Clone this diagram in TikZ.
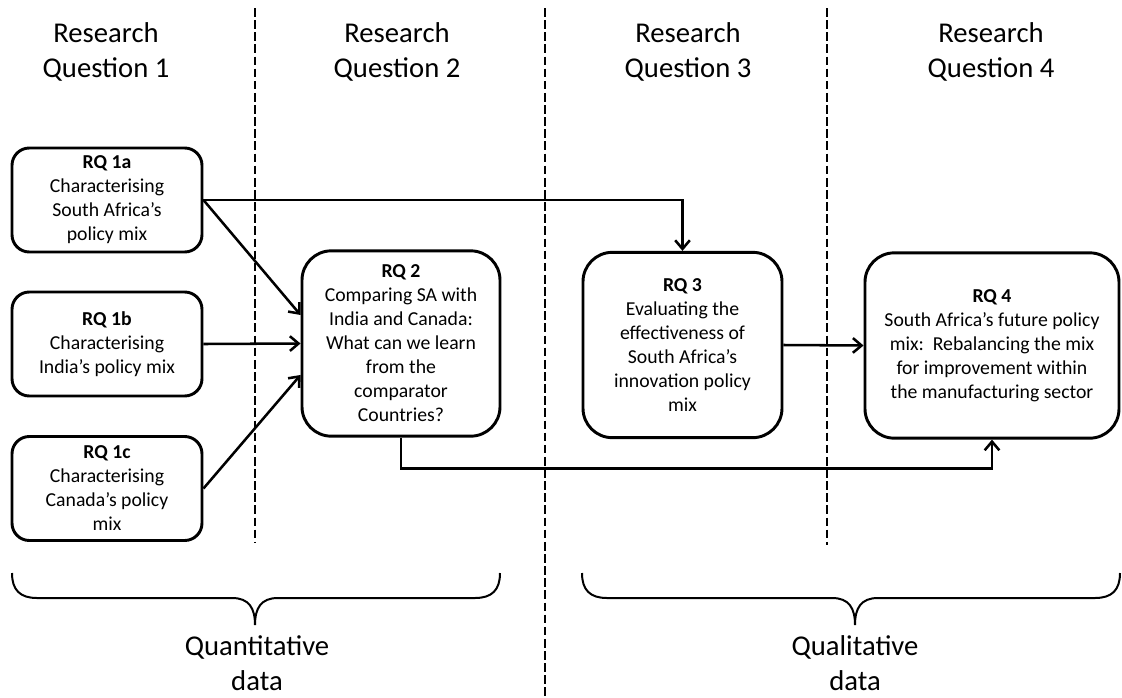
\documentclass[tikz,border=0pt]{standalone}
\usepackage{fontspec}
\setmainfont{Carlito}
\usepackage{tikz}
\usetikzlibrary{
    arrows.meta,
    positioning,
    calc
}
\tikzstyle{rqbox} = [
    rectangle,
    rounded corners=13pt,
    draw=black,
    line width=2.2pt,
    minimum width=142.5pt,
    minimum height=78pt,
    inner sep=0pt,
    align=center,
    font=\fontsize{14.8}{18}\selectfont
]
\tikzstyle{rqmain} = [
    rqbox,
    rounded corners=22pt,
    minimum height=139pt
]
\tikzstyle{heading} = [
    align=center,
    inner sep=0pt,
    font=\fontsize{21.5}{26}\selectfont
]
\tikzstyle{arrow} = [
    -{Straight Barb[length=6.5pt,width=11pt]},
    line width=1.9pt,
    draw=black
]
\tikzstyle{divider} = [
    line width=1.7pt,
    dash pattern=on 6.5pt off 2.6pt
]
\tikzstyle{brace} = [
    line width=1.5pt
]
\begin{document}
\begin{tikzpicture}[x=0.75pt, y=-0.75pt]
        \useasboundingbox (0,0) rectangle (1122,697);

        % Columns
        \draw[divider] (255,8) -- (255,543);
        \draw[divider] (545,8) -- (545,697);
        \draw[divider] (827,8) -- (827,545);

        \node[heading] (h1) at (106,52) {Research\\Question 1};
        \node[heading] (h2) at (397,52) {Research\\Question 2};
        \node[heading] (h3) at (688,52) {Research\\Question 3};
        \node[heading] (h4) at (991,52) {Research\\Question 4};

        % Research questions
        \node[rqbox] (q1a) at (107,200) {\textbf{RQ 1a}\\Characterising\\South Africa’s\\policy mix};
        \node[rqbox] (q1b) at (107,344) {\textbf{RQ 1b}\\Characterising\\India’s policy mix};
        \node[rqbox] (q1c) at (107,488.5) {\textbf{RQ 1c}\\Characterising\\Canada’s policy\\mix};
        \node[rqmain, minimum width=148.5pt] (q2) at (401,343.5)
            {\textbf{RQ 2}\\Comparing SA with\\India and Canada:\\What can we learn\\from the\\comparator\\Countries?};
        \node[rqmain, minimum width=149.25pt] (q3) at (682.5,345)
            {\textbf{RQ 3}\\Evaluating the\\effectiveness of\\South Africa’s\\innovation policy\\mix};
        \node[rqmain, minimum width=190.5pt] (q4) at (992,345.5)
            {\textbf{RQ 4}\\South Africa’s future policy\\mix:\ \ Rebalancing the mix\\for improvement within\\the manufacturing sector};

        % Arrows
        \draw[arrow] (q1a.east) -| (q3.north);
        \draw[arrow] (q1a.east) -- ([yshift=21.4pt]q2.west);
        \draw[arrow] (q1b.east) -- (q2.west);
        \draw[arrow] (q1c.east) -- ([yshift=-23.6pt]q2.west);
        \draw[arrow] (q3.east) -- (q4.west);
        \draw[arrow] (q2.south) -- ++(0,31) -| (q4.south);

        % Data types
        \draw[brace] (12,573) .. controls (12,590) and (20,598) .. (37,598) -- (232,598)
            .. controls (249,598) and (255,608) .. (255,625)
            .. controls (255,608) and (261,598) .. (278,598) -- (475,598)
            .. controls (492,598) and (500,590) .. (500,573);
        \draw[brace] (582,573) .. controls (582,590) and (590,598) .. (607,598) -- (832,598)
            .. controls (849,598) and (855,608) .. (855,625)
            .. controls (855,608) and (861,598) .. (878,598) -- (1095,598)
            .. controls (1112,598) and (1120,590) .. (1120,573);

        \node[heading] (quant) at (257,663) {Quantitative\\data};
        \node[heading] (qual) at (855,663) {Qualitative\\data};
    \end{tikzpicture}
\end{document}
